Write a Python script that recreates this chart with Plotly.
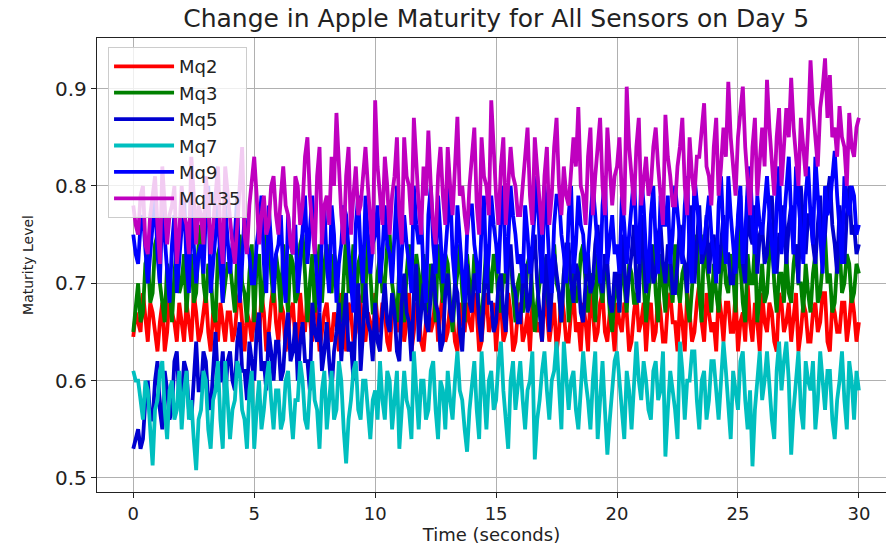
import plotly.graph_objects as go

# Sensor readings (Maturity Level), one sample every 0.1 s from t = 0 to 30 s
mq2 = [0.645, 0.67, 0.66, 0.65, 0.69, 0.66, 0.64, 0.68, 0.67, 0.65, 0.63, 0.66, 0.68, 0.63, 0.65, 0.69, 0.67, 0.66, 0.64, 0.68,
       0.66, 0.64, 0.68, 0.66, 0.64, 0.69, 0.67, 0.64, 0.65, 0.67, 0.69, 0.65, 0.63, 0.67, 0.66, 0.64, 0.68, 0.66, 0.64, 0.67,
       0.67, 0.64, 0.65, 0.68, 0.69, 0.66, 0.63, 0.67, 0.66, 0.64, 0.68, 0.65, 0.64, 0.69, 0.67, 0.63, 0.65, 0.68, 0.70, 0.66,
       0.64, 0.68, 0.67, 0.63, 0.65, 0.67, 0.68, 0.64, 0.63, 0.69, 0.66, 0.65, 0.69, 0.66, 0.64, 0.68, 0.67, 0.63, 0.65, 0.67,
       0.68, 0.65, 0.64, 0.67, 0.66, 0.63, 0.69, 0.66, 0.63, 0.68, 0.67, 0.64, 0.65, 0.69, 0.68, 0.65, 0.64, 0.67, 0.66, 0.63,
       0.69, 0.66, 0.65, 0.68, 0.67, 0.64, 0.63, 0.67, 0.68, 0.65, 0.66, 0.69, 0.64, 0.66, 0.69, 0.63, 0.65, 0.68, 0.67, 0.64,
       0.63, 0.66, 0.68, 0.65, 0.66, 0.69, 0.64, 0.67, 0.69, 0.64, 0.65, 0.68, 0.67, 0.64, 0.63, 0.68, 0.66, 0.65, 0.68, 0.66,
       0.65, 0.69, 0.67, 0.63, 0.64, 0.67, 0.69, 0.65, 0.66, 0.68, 0.63, 0.67, 0.68, 0.64, 0.65, 0.69, 0.67, 0.63, 0.64, 0.67,
       0.68, 0.64, 0.65, 0.67, 0.63, 0.68, 0.67, 0.65, 0.66, 0.64, 0.69, 0.67, 0.64, 0.66, 0.68, 0.63, 0.65, 0.69, 0.67, 0.64,
       0.64, 0.67, 0.69, 0.65, 0.66, 0.63, 0.68, 0.66, 0.63, 0.69, 0.67, 0.64, 0.65, 0.68, 0.69, 0.65, 0.64, 0.67, 0.66, 0.63,
       0.68, 0.66, 0.65, 0.68, 0.67, 0.63, 0.64, 0.67, 0.69, 0.65, 0.66, 0.68, 0.63, 0.67, 0.68, 0.64, 0.65, 0.69, 0.67, 0.64,
       0.64, 0.68, 0.69, 0.66, 0.66, 0.63, 0.68, 0.66, 0.63, 0.69, 0.67, 0.64, 0.65, 0.68, 0.70, 0.66, 0.64, 0.69, 0.67, 0.65,
       0.66, 0.63, 0.69, 0.67, 0.64, 0.68, 0.68, 0.65, 0.65, 0.69, 0.63, 0.66, 0.67, 0.64, 0.70, 0.66, 0.64, 0.68, 0.66, 0.63,
       0.69, 0.66, 0.65, 0.68, 0.67, 0.64, 0.63, 0.69, 0.68, 0.65, 0.66, 0.68, 0.64, 0.67, 0.69, 0.63, 0.65, 0.68, 0.67, 0.64,
       0.64, 0.67, 0.68, 0.65, 0.66, 0.69, 0.69, 0.64, 0.63, 0.68, 0.67, 0.65, 0.65, 0.68, 0.68, 0.64, 0.66, 0.69, 0.67, 0.64,
       0.66]

mq3 = [0.65, 0.68, 0.70, 0.66, 0.67, 0.72, 0.73, 0.68, 0.69, 0.74, 0.75, 0.70, 0.68, 0.66, 0.72, 0.70, 0.66, 0.71, 0.74, 0.69,
       0.70, 0.73, 0.67, 0.71, 0.73, 0.68, 0.69, 0.74, 0.76, 0.70, 0.68, 0.72, 0.71, 0.67, 0.66, 0.73, 0.74, 0.68, 0.70, 0.72,
       0.72, 0.69, 0.67, 0.73, 0.75, 0.70, 0.69, 0.66, 0.71, 0.74, 0.66, 0.72, 0.73, 0.67, 0.70, 0.75, 0.76, 0.71, 0.68, 0.73,
       0.71, 0.67, 0.74, 0.70, 0.67, 0.73, 0.72, 0.68, 0.69, 0.74, 0.75, 0.71, 0.66, 0.70, 0.73, 0.67, 0.70, 0.74, 0.68, 0.72,
       0.74, 0.70, 0.69, 0.73, 0.72, 0.67, 0.66, 0.71, 0.75, 0.69, 0.70, 0.74, 0.67, 0.72, 0.73, 0.68, 0.69, 0.75, 0.71, 0.67,
       0.67, 0.71, 0.73, 0.69, 0.70, 0.74, 0.75, 0.70, 0.68, 0.66, 0.72, 0.69, 0.66, 0.71, 0.74, 0.70, 0.69, 0.73, 0.71, 0.67,
       0.73, 0.70, 0.67, 0.72, 0.70, 0.66, 0.74, 0.71, 0.68, 0.73, 0.72, 0.68, 0.65, 0.69, 0.71, 0.74, 0.69, 0.66, 0.73, 0.70,
       0.68, 0.73, 0.71, 0.67, 0.66, 0.70, 0.74, 0.71, 0.69, 0.73, 0.72, 0.68, 0.67, 0.71, 0.70, 0.74, 0.73, 0.69, 0.66, 0.70,
       0.71, 0.67, 0.68, 0.72, 0.73, 0.69, 0.65, 0.68, 0.70, 0.73, 0.72, 0.69, 0.67, 0.71, 0.74, 0.70, 0.69, 0.66, 0.71, 0.73,
       0.66, 0.69, 0.72, 0.68, 0.69, 0.73, 0.74, 0.70, 0.67, 0.71, 0.70, 0.66, 0.73, 0.70, 0.68, 0.72, 0.71, 0.67, 0.65, 0.69,
       0.70, 0.67, 0.73, 0.70, 0.67, 0.72, 0.71, 0.68, 0.68, 0.71, 0.74, 0.70, 0.66, 0.69, 0.72, 0.74, 0.69, 0.66, 0.73, 0.70,
       0.67, 0.72, 0.70, 0.68, 0.74, 0.70, 0.68, 0.71, 0.72, 0.68, 0.66, 0.70, 0.73, 0.75, 0.69, 0.66, 0.75, 0.72, 0.70, 0.67,
       0.72, 0.69, 0.67, 0.71, 0.74, 0.70, 0.69, 0.73, 0.71, 0.67, 0.76, 0.72, 0.68, 0.66, 0.73, 0.70, 0.70, 0.74, 0.66, 0.69,
       0.72, 0.68, 0.69, 0.73, 0.75, 0.70, 0.67, 0.71, 0.71, 0.68, 0.73, 0.69, 0.68, 0.72, 0.74, 0.70, 0.70, 0.67, 0.72, 0.69,
       0.67, 0.71, 0.73, 0.68, 0.69, 0.72, 0.75, 0.70, 0.71, 0.67, 0.68, 0.72, 0.74, 0.69, 0.70, 0.73, 0.72, 0.68, 0.69, 0.72,
       0.71]

mq5 = [0.53, 0.54, 0.55, 0.53, 0.54, 0.58, 0.60, 0.56, 0.56, 0.60, 0.62, 0.57, 0.55, 0.61, 0.59, 0.56, 0.57, 0.62, 0.63, 0.58,
       0.58, 0.62, 0.61, 0.57, 0.56, 0.60, 0.64, 0.59, 0.59, 0.63, 0.62, 0.58, 0.57, 0.61, 0.65, 0.60, 0.60, 0.63, 0.58, 0.62,
       0.63, 0.60, 0.59, 0.64, 0.66, 0.61, 0.61, 0.58, 0.64, 0.62, 0.60, 0.65, 0.67, 0.61, 0.62, 0.59, 0.65, 0.63, 0.60, 0.64,
       0.64, 0.60, 0.61, 0.65, 0.67, 0.62, 0.63, 0.66, 0.60, 0.64, 0.66, 0.62, 0.62, 0.59, 0.68, 0.65, 0.64, 0.67, 0.61, 0.63,
       0.66, 0.62, 0.59, 0.63, 0.65, 0.68, 0.62, 0.66, 0.69, 0.63, 0.64, 0.60, 0.67, 0.70, 0.61, 0.65, 0.70, 0.66, 0.65, 0.62,
       0.68, 0.64, 0.63, 0.67, 0.70, 0.66, 0.65, 0.69, 0.67, 0.63, 0.62, 0.68, 0.71, 0.67, 0.66, 0.62, 0.69, 0.72, 0.64, 0.67,
       0.70, 0.66, 0.65, 0.69, 0.72, 0.68, 0.67, 0.63, 0.64, 0.69, 0.71, 0.67, 0.66, 0.70, 0.69, 0.65, 0.63, 0.68, 0.72, 0.68,
       0.67, 0.71, 0.70, 0.66, 0.64, 0.69, 0.73, 0.68, 0.68, 0.65, 0.66, 0.70, 0.71, 0.67, 0.65, 0.72, 0.74, 0.70, 0.69, 0.66,
       0.66, 0.70, 0.72, 0.67, 0.68, 0.73, 0.75, 0.70, 0.67, 0.64, 0.70, 0.73, 0.65, 0.69, 0.73, 0.71, 0.69, 0.66, 0.71, 0.74,
       0.74, 0.70, 0.68, 0.72, 0.71, 0.67, 0.66, 0.70, 0.73, 0.69, 0.70, 0.74, 0.76, 0.71, 0.69, 0.73, 0.72, 0.68, 0.67, 0.71,
       0.71, 0.67, 0.75, 0.72, 0.68, 0.71, 0.73, 0.76, 0.70, 0.68, 0.77, 0.73, 0.69, 0.72, 0.74, 0.70, 0.71, 0.75, 0.76, 0.72,
       0.70, 0.74, 0.73, 0.69, 0.69, 0.72, 0.76, 0.73, 0.72, 0.69, 0.75, 0.78, 0.70, 0.74, 0.78, 0.72, 0.73, 0.77, 0.71, 0.74,
       0.75, 0.72, 0.71, 0.74, 0.77, 0.73, 0.73, 0.70, 0.70, 0.74, 0.76, 0.79, 0.72, 0.70, 0.79, 0.75, 0.74, 0.78, 0.71, 0.75,
       0.76, 0.72, 0.73, 0.77, 0.79, 0.74, 0.71, 0.75, 0.75, 0.78, 0.72, 0.76, 0.78, 0.73, 0.74, 0.70, 0.80, 0.76, 0.73, 0.77,
       0.77, 0.74, 0.72, 0.76, 0.79, 0.73, 0.75, 0.79, 0.81, 0.76, 0.74, 0.71, 0.78, 0.75, 0.72, 0.77, 0.80, 0.75, 0.76, 0.73,
       0.74]

mq7 = [0.61, 0.60, 0.60, 0.58, 0.56, 0.60, 0.59, 0.55, 0.513, 0.57, 0.58, 0.61, 0.62, 0.57, 0.54, 0.59, 0.60, 0.56, 0.57, 0.61,
       0.55, 0.59, 0.61, 0.56, 0.58, 0.54, 0.508, 0.56, 0.57, 0.61, 0.60, 0.55, 0.53, 0.58, 0.59, 0.62, 0.56, 0.53, 0.62, 0.58,
       0.54, 0.57, 0.58, 0.62, 0.61, 0.57, 0.56, 0.53, 0.59, 0.61, 0.53, 0.57, 0.60, 0.55, 0.57, 0.60, 0.62, 0.58, 0.55, 0.59,
       0.59, 0.55, 0.56, 0.60, 0.61, 0.57, 0.54, 0.58, 0.58, 0.62, 0.60, 0.56, 0.55, 0.59, 0.62, 0.58, 0.57, 0.53, 0.59, 0.61,
       0.55, 0.58, 0.61, 0.56, 0.57, 0.62, 0.60, 0.55, 0.515, 0.56, 0.58, 0.61, 0.62, 0.57, 0.56, 0.60, 0.60, 0.57, 0.54, 0.58,
       0.59, 0.56, 0.62, 0.58, 0.56, 0.61, 0.60, 0.55, 0.58, 0.61, 0.53, 0.57, 0.61, 0.58, 0.57, 0.54, 0.63, 0.59, 0.55, 0.60,
       0.60, 0.56, 0.57, 0.61, 0.62, 0.57, 0.54, 0.60, 0.59, 0.55, 0.61, 0.58, 0.56, 0.60, 0.63, 0.59, 0.58, 0.55, 0.527, 0.57,
       0.60, 0.62, 0.57, 0.54, 0.63, 0.59, 0.55, 0.60, 0.61, 0.57, 0.58, 0.62, 0.64, 0.59, 0.56, 0.53, 0.60, 0.62, 0.57, 0.60,
       0.62, 0.58, 0.55, 0.59, 0.60, 0.63, 0.519, 0.56, 0.58, 0.61, 0.63, 0.59, 0.56, 0.60, 0.61, 0.64, 0.59, 0.55, 0.64, 0.60,
       0.57, 0.60, 0.61, 0.57, 0.55, 0.59, 0.63, 0.60, 0.58, 0.55, 0.60, 0.63, 0.54, 0.58, 0.62, 0.57, 0.524, 0.56, 0.59, 0.62,
       0.63, 0.60, 0.57, 0.54, 0.61, 0.59, 0.55, 0.60, 0.64, 0.60, 0.58, 0.62, 0.60, 0.57, 0.56, 0.61, 0.62, 0.58, 0.59, 0.63,
       0.522, 0.57, 0.61, 0.59, 0.57, 0.54, 0.64, 0.61, 0.56, 0.60, 0.60, 0.63, 0.63, 0.58, 0.55, 0.60, 0.61, 0.56, 0.58, 0.62,
       0.62, 0.59, 0.56, 0.60, 0.64, 0.61, 0.58, 0.54, 0.61, 0.59, 0.57, 0.62, 0.63, 0.58, 0.55, 0.59, 0.512, 0.57, 0.60, 0.63,
       0.58, 0.60, 0.63, 0.59, 0.56, 0.54, 0.61, 0.64, 0.59, 0.62, 0.64, 0.60, 0.524, 0.57, 0.60, 0.63, 0.57, 0.55, 0.62, 0.60,
       0.59, 0.62, 0.55, 0.58, 0.63, 0.60, 0.57, 0.61, 0.61, 0.56, 0.54, 0.58, 0.60, 0.63, 0.58, 0.55, 0.62, 0.60, 0.56, 0.61,
       0.59]

mq9 = [0.75, 0.73, 0.72, 0.76, 0.77, 0.74, 0.70, 0.73, 0.76, 0.79, 0.73, 0.70, 0.78, 0.75, 0.71, 0.68, 0.74, 0.77, 0.69, 0.72,
       0.76, 0.79, 0.72, 0.69, 0.78, 0.74, 0.70, 0.73, 0.74, 0.71, 0.77, 0.80, 0.69, 0.72, 0.75, 0.78, 0.72, 0.68, 0.78, 0.74,
       0.71, 0.74, 0.75, 0.79, 0.68, 0.72, 0.77, 0.74, 0.73, 0.70, 0.70, 0.74, 0.76, 0.79, 0.72, 0.69, 0.78, 0.74, 0.69, 0.73,
       0.74, 0.77, 0.71, 0.68, 0.77, 0.74, 0.73, 0.76, 0.69, 0.72, 0.76, 0.79, 0.72, 0.75, 0.79, 0.74, 0.70, 0.67, 0.75, 0.78,
       0.72, 0.69, 0.78, 0.75, 0.68, 0.72, 0.74, 0.78, 0.77, 0.73, 0.70, 0.67, 0.76, 0.79, 0.73, 0.70, 0.79, 0.75, 0.71, 0.74,
       0.75, 0.78, 0.70, 0.73, 0.78, 0.74, 0.73, 0.70, 0.76, 0.80, 0.69, 0.73, 0.77, 0.74, 0.72, 0.69, 0.80, 0.76, 0.74, 0.77,
       0.71, 0.68, 0.77, 0.80, 0.74, 0.71, 0.79, 0.75, 0.70, 0.73, 0.76, 0.80, 0.73, 0.70, 0.78, 0.74, 0.71, 0.68, 0.75, 0.78,
       0.78, 0.74, 0.72, 0.69, 0.76, 0.79, 0.70, 0.73, 0.79, 0.76, 0.74, 0.71, 0.77, 0.80, 0.71, 0.74, 0.80, 0.77, 0.75, 0.72,
       0.73, 0.70, 0.78, 0.75, 0.71, 0.74, 0.77, 0.81, 0.74, 0.70, 0.80, 0.77, 0.72, 0.69, 0.76, 0.79, 0.79, 0.75, 0.73, 0.70,
       0.77, 0.80, 0.71, 0.74, 0.79, 0.76, 0.75, 0.71, 0.73, 0.77, 0.80, 0.77, 0.74, 0.70, 0.78, 0.81, 0.72, 0.75, 0.77, 0.73,
       0.74, 0.71, 0.79, 0.76, 0.72, 0.75, 0.78, 0.81, 0.75, 0.72, 0.81, 0.78, 0.73, 0.70, 0.77, 0.80, 0.74, 0.71, 0.79, 0.76,
       0.76, 0.79, 0.72, 0.75, 0.80, 0.77, 0.75, 0.72, 0.78, 0.81, 0.73, 0.70, 0.81, 0.78, 0.76, 0.73, 0.74, 0.77, 0.79, 0.75,
       0.73, 0.70, 0.78, 0.81, 0.75, 0.72, 0.81, 0.77, 0.74, 0.71, 0.77, 0.80, 0.72, 0.75, 0.80, 0.82, 0.76, 0.73, 0.79, 0.76,
       0.75, 0.78, 0.81, 0.77, 0.74, 0.71, 0.78, 0.82, 0.73, 0.76, 0.80, 0.83, 0.77, 0.73, 0.82, 0.79, 0.75, 0.72, 0.79, 0.82,
       0.77, 0.74, 0.83, 0.79, 0.74, 0.71, 0.80, 0.77, 0.78, 0.81, 0.836, 0.79, 0.75, 0.72, 0.81, 0.78, 0.77, 0.80, 0.79, 0.75,
       0.76]

mq135 = [0.78, 0.76, 0.75, 0.79, 0.80, 0.74, 0.73, 0.77, 0.79, 0.81, 0.76, 0.72, 0.82, 0.78, 0.74, 0.77, 0.78, 0.80, 0.72, 0.75,
         0.80, 0.77, 0.76, 0.73, 0.83, 0.79, 0.74, 0.78, 0.77, 0.74, 0.81, 0.78, 0.73, 0.76, 0.79, 0.82, 0.75, 0.72, 0.82, 0.79,
         0.77, 0.74, 0.72, 0.76, 0.80, 0.84, 0.75, 0.73, 0.78, 0.81, 0.83, 0.79, 0.74, 0.77, 0.79, 0.75, 0.76, 0.80, 0.81, 0.77,
         0.75, 0.79, 0.82, 0.78, 0.77, 0.74, 0.73, 0.81, 0.80, 0.76, 0.78, 0.83, 0.85, 0.79, 0.76, 0.73, 0.81, 0.84, 0.74, 0.78,
         0.79, 0.76, 0.83, 0.80, 0.875, 0.81, 0.77, 0.74, 0.81, 0.84, 0.75, 0.79, 0.82, 0.77, 0.78, 0.81, 0.84, 0.80, 0.76, 0.73,
         0.888, 0.82, 0.79, 0.76, 0.83, 0.80, 0.75, 0.79, 0.81, 0.85, 0.77, 0.74, 0.85, 0.81, 0.80, 0.76, 0.870, 0.82, 0.78, 0.75,
         0.82, 0.79, 0.857, 0.80, 0.76, 0.74, 0.81, 0.84, 0.79, 0.76, 0.84, 0.80, 0.77, 0.82, 0.871, 0.79, 0.80, 0.77, 0.75, 0.80,
         0.83, 0.86, 0.78, 0.75, 0.85, 0.81, 0.80, 0.77, 0.888, 0.83, 0.79, 0.76, 0.82, 0.85, 0.76, 0.80, 0.84, 0.81, 0.80, 0.77,
         0.77, 0.80, 0.83, 0.86, 0.79, 0.76, 0.85, 0.82, 0.78, 0.75, 0.81, 0.84, 0.76, 0.79, 0.84, 0.87, 0.80, 0.77, 0.82, 0.79,
         0.78, 0.81, 0.85, 0.82, 0.881, 0.80, 0.79, 0.76, 0.83, 0.86, 0.77, 0.81, 0.84, 0.87, 0.80, 0.77, 0.86, 0.82, 0.78, 0.81,
         0.82, 0.85, 0.79, 0.77, 0.902, 0.84, 0.81, 0.78, 0.84, 0.87, 0.78, 0.81, 0.83, 0.79, 0.80, 0.84, 0.86, 0.82, 0.79, 0.76,
         0.873, 0.83, 0.81, 0.78, 0.78, 0.82, 0.84, 0.87, 0.80, 0.77, 0.85, 0.81, 0.79, 0.83, 0.83, 0.86, 0.885, 0.82, 0.81, 0.78,
         0.84, 0.87, 0.79, 0.82, 0.86, 0.83, 0.907, 0.85, 0.82, 0.79, 0.85, 0.88, 0.902, 0.84, 0.80, 0.77, 0.84, 0.87, 0.79, 0.83,
         0.86, 0.82, 0.909, 0.86, 0.82, 0.79, 0.85, 0.88, 0.80, 0.84, 0.88, 0.85, 0.911, 0.86, 0.83, 0.80, 0.87, 0.84, 0.81, 0.86,
         0.929, 0.88, 0.85, 0.82, 0.88, 0.90, 0.931, 0.87, 0.914, 0.85, 0.86, 0.83, 0.882, 0.85, 0.84, 0.80, 0.875, 0.84, 0.83, 0.86,
         0.870]

series_names = ["Mq2", "Mq3", "Mq5", "Mq7", "Mq9", "Mq135"]
series_values = [mq2, mq3, mq5, mq7, mq9, mq135]
series_colors = ["#ff0000", "#008000", "#0000d0", "#00bfbf", "#0000ff", "#bf00bf"]
sample_step = 0.1  # seconds between samples

FONT = "DejaVu Sans"

fig = go.Figure()
for name, vals, col in zip(series_names, series_values, series_colors):
    t = [round(i * sample_step, 1) for i in range(len(vals))]
    fig.add_trace(go.Scatter(x=t, y=vals, mode="lines", name=name,
                             line=dict(color=col, width=3.8)))

axis_common = dict(
    showgrid=True, gridcolor="#b0b0b0", gridwidth=1,
    zeroline=False, showline=True, linecolor="#222222", linewidth=1.3,
    ticks="outside", ticklen=5, tickcolor="#222222",
)

fig.update_layout(
    width=886, height=548,
    margin=dict(l=97, r=0, t=38, b=56),
    paper_bgcolor="white", plot_bgcolor="white",
    title=dict(text="Change in Apple Maturity for All Sensors on Day 5",
               xref="paper", x=0.506, xanchor="center",
               yref="container", y=0.967, yanchor="middle",
               font=dict(family=FONT, size=25, color="#222222")),
    xaxis=dict(range=[-1.5, 31.12], tickvals=[0, 5, 10, 15, 20, 25, 30],
               mirror=True, automargin=False,
               tickfont=dict(family=FONT, size=18, color="#222222"),
               title=dict(text="Time (seconds)", standoff=5,
                          font=dict(family=FONT, size=18, color="#222222")),
               **axis_common),
    yaxis=dict(range=[0.4856, 0.952], tickvals=[0.5, 0.6, 0.7, 0.8, 0.9],
               ticktext=["0.5", "0.6", "0.7", "0.8", "0.9"],
               tickfont=dict(family=FONT, size=20, color="#222222"),
               title=dict(text="Maturity Level", standoff=18,
                          font=dict(family=FONT, size=14, color="#222222")),
               **axis_common),
    legend=dict(x=0.014, y=0.98, xanchor="left", yanchor="top",
                bgcolor="rgba(255,255,255,0.8)", bordercolor="#cccccc", borderwidth=1,
                itemwidth=60,
                font=dict(family=FONT, size=18, color="#222222")),
    showlegend=True,
)

fig.write_html("out.html")
